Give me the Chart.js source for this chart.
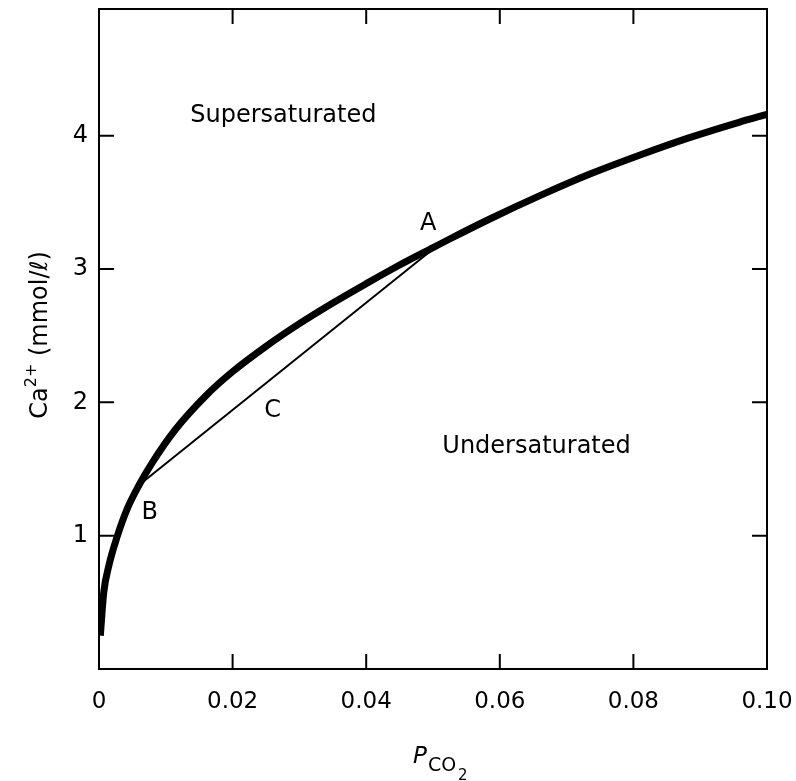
<!DOCTYPE html>
<html>
<head>
<meta charset="utf-8">
<script src="https://cdn.jsdelivr.net/npm/chart.js@4.4.1/dist/chart.umd.min.js"></script>
<style>
  body { margin: 0; background: #fff; }
  canvas { display: block; }
</style>
</head>
<body>
<canvas id="myChart" width="796" height="781"></canvas>
<script>
// saturation curve (P_CO2 vs Ca2+ mmol/l)
const curveP = [0.0002, 0.0007, 0.0015, 0.0027, 0.0043, 0.006, 0.008, 0.0115, 0.016, 0.020,
  0.025, 0.030, 0.035, 0.040, 0.045, 0.050, 0.0525, 0.0585, 0.066, 0.0734, 0.081, 0.0884, 0.0958, 0.100];
const curveCa = [0.25, 0.57, 0.78, 0.99, 1.21, 1.38, 1.55, 1.80, 2.05, 2.23,
  2.42, 2.59, 2.745, 2.89, 3.03, 3.16, 3.225, 3.375, 3.55, 3.71, 3.855, 3.985, 4.10, 4.16];

// mixing line B -> A
const mixP = [0.006, 0.051];
const mixCa = [1.38, 3.19];

const xTicks = [0, 0.02, 0.04, 0.06, 0.08, 0.10];
const xTickLabels = ["0", "0.02", "0.04", "0.06", "0.08", "0.10"];
const yTicks = [1, 2, 3, 4];
const yTickLabels = ["1", "2", "3", "4"];

// text labels placed in data coordinates (baseline)
const noteText = ["Supersaturated", "Undersaturated", "A", "B", "C"];
const noteP = [0.0276, 0.0655, 0.0493, 0.0076, 0.026];
const noteCa = [4.10, 1.62, 3.29, 1.125, 1.89];

const FONT = "'DejaVu Sans', sans-serif";

const framePlugin = {
  id: "frame",
  afterDraw(chart) {
    const { ctx, chartArea: a, scales } = chart;
    const x = scales.x, y = scales.y;
    ctx.save();
    ctx.strokeStyle = "#000";
    ctx.lineWidth = 2;
    ctx.strokeRect(a.left, a.top, a.right - a.left, a.bottom - a.top);

    // inward ticks on all four sides
    const len = 15;
    ctx.beginPath();
    xTicks.forEach((v) => {
      if (v === 0 || v === 0.10) return;
      const px = x.getPixelForValue(v);
      ctx.moveTo(px, a.bottom);
      ctx.lineTo(px, a.bottom - len);
      ctx.moveTo(px, a.top);
      ctx.lineTo(px, a.top + len);
    });
    yTicks.forEach((v) => {
      const py = y.getPixelForValue(v);
      ctx.moveTo(a.left, py);
      ctx.lineTo(a.left + len, py);
      ctx.moveTo(a.right, py);
      ctx.lineTo(a.right - len, py);
    });
    ctx.stroke();

    // annotations
    ctx.fillStyle = "#000";
    ctx.font = "24px " + FONT;
    ctx.textAlign = "center";
    ctx.textBaseline = "alphabetic";
    noteText.forEach((t, i) => {
      ctx.fillText(t, x.getPixelForValue(noteP[i]), y.getPixelForValue(noteCa[i]));
    });

    // y axis title: Ca2+ (mmol/l)
    ctx.save();
    ctx.translate(47, 335);
    ctx.rotate(-Math.PI / 2);
    ctx.textAlign = "left";
    const big = "24px " + FONT, sup = "16px " + FONT;
    ctx.font = big;
    const w1 = ctx.measureText("Ca").width;
    const w3 = ctx.measureText(" (mmol/ℓ)").width;
    ctx.font = sup;
    const w2 = ctx.measureText("2+").width;
    let sx = -(w1 + w2 + w3) / 2;
    ctx.font = big;
    ctx.fillText("Ca", sx, 0);
    sx += w1;
    ctx.font = sup;
    ctx.fillText("2+", sx, -11);
    sx += w2;
    ctx.font = big;
    ctx.fillText(" (mmol/ℓ)", sx, 0);
    ctx.restore();

    // x axis title: P_CO2
    ctx.textAlign = "left";
    ctx.font = "italic 23px " + FONT;
    ctx.fillText("P", 413, 763);
    ctx.font = "19px " + FONT;
    ctx.fillText("CO", 428, 771);
    ctx.font = "15px " + FONT;
    ctx.fillText("2", 458, 780);
    ctx.restore();
  },
};

new Chart(document.getElementById("myChart"), {
  type: "line",
  data: {
    datasets: [
      {
        data: curveP.map((p, i) => ({ x: p, y: curveCa[i] })),
        borderColor: "#000",
        borderWidth: 7,
        pointRadius: 0,
        cubicInterpolationMode: "monotone",
        fill: false,
      },
      {
        data: mixP.map((p, i) => ({ x: p, y: mixCa[i] })),
        borderColor: "#000",
        borderWidth: 2,
        pointRadius: 0,
        fill: false,
      },
    ],
  },
  options: {
    responsive: false,
    animation: false,
    layout: { padding: { top: 9, right: 29, left: 0, bottom: 0 } },
    plugins: { legend: { display: false }, tooltip: { enabled: false } },
    scales: {
      x: {
        type: "linear",
        min: 0,
        max: 0.1,
        grid: { display: false, drawTicks: false },
        border: { display: false },
        afterBuildTicks: (s) => { s.ticks = xTicks.map((v) => ({ value: v })); },
        afterFit: (s) => { s.height = 112; s.paddingLeft = 0; s.paddingRight = 0; },
        ticks: {
          color: "#000",
          font: { family: FONT, size: 23 },
          padding: 19,
          maxRotation: 0,
          callback: (v, i) => xTickLabels[i],
        },
      },
      y: {
        type: "linear",
        min: 0,
        max: 4.95,
        grid: { display: false, drawTicks: false },
        border: { display: false },
        afterBuildTicks: (s) => { s.ticks = yTicks.map((v) => ({ value: v })); },
        afterFit: (s) => { s.width = 99; s.paddingTop = 0; s.paddingBottom = 0; },
        ticks: {
          color: "#000",
          font: { family: FONT, size: 24 },
          padding: 11,
          callback: (v, i) => yTickLabels[i],
        },
      },
    },
  },
  plugins: [framePlugin],
});
</script>
</body>
</html>
